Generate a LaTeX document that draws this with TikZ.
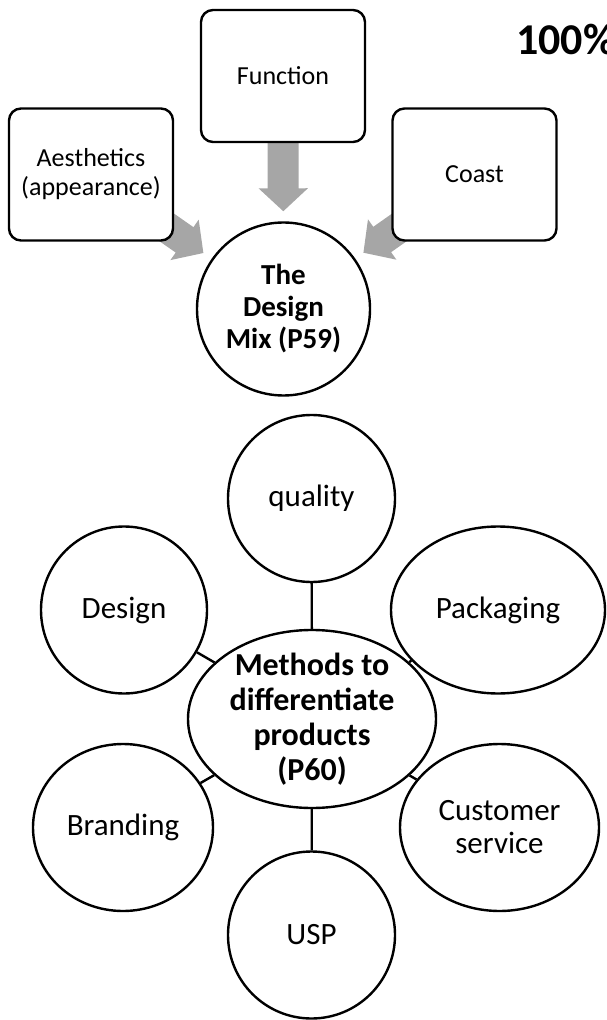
\documentclass[tikz,border=0pt]{standalone}
\usepackage{fontspec}
\setmainfont{Carlito}
\usepackage{tikz}
\usetikzlibrary{shapes.geometric,arrows.meta,backgrounds}

\definecolor{arrowgray}{HTML}{A6A6A6}

\begin{document}
\begin{tikzpicture}[x=0.5pt,y=-0.5pt,line width=1.2pt,
    mixbox/.style={draw, fill=white, rounded corners=6pt, minimum width=82pt,
      minimum height=66pt, align=center, font=\fontsize{13pt}{14.5pt}\selectfont},
    mixhub/.style={draw, fill=white, circle, minimum size=86.5pt, inner sep=0pt,
      align=center, font=\fontsize{14.5pt}{16pt}\selectfont\bfseries},
    method/.style={draw, ellipse, minimum height=83.5pt, inner sep=0pt,
      align=center, font=\fontsize{15.5pt}{16.5pt}\selectfont},
    methodhub/.style={draw, ellipse, minimum width=124pt, minimum height=89pt,
      inner xsep=0pt, inner ysep=-6pt, align=center,
      font=\fontsize{16pt}{17.5pt}\selectfont\bfseries},
    fatarrow/.style={arrowgray, line width=15.5pt,
      -{Triangle[length=11.5pt,width=24pt]}, shorten >=5pt}]
  \useasboundingbox (0,0) rectangle (606,1020);
  \clip (0,0) rectangle (606,1020);

  %% The design mix
  \node[mixbox] (fn)    at (283,76)      {Function};
  \node[mixbox] (aes)   at (91,174.5)    {Aesthetics\\(appearance)};
  \node[mixbox] (coast) at (474.5,174.5) {Coast};
  \node[mixhub] (mix)   at (283.5,309)   {The\\Design\\Mix (P59)};

  \node[anchor=base west, inner sep=0pt,
        font=\fontsize{22pt}{26pt}\selectfont\bfseries] (pct) at (515,55) {100\%};

  %% Grey arrows run from behind the boxes into the circle
  \begin{scope}[on background layer]
    \foreach \src in {aes,fn,coast}
      \draw[fatarrow] (\src.center) -- (mix);
  \end{scope}

  %% Methods to differentiate products
  \node[methodhub] (hub) at (312,719) {Methods to\\differentiate\\products\\(P60)};

  \foreach \name/\pos/\w/\txt in {
      quality/{311.5,498.5}/83.5/quality,
      design/{124,610}/83/Design,
      packaging/{498,610}/107/Packaging,
      branding/{123,827.5}/90/Branding,
      customer/{499.5,827.5}/99.5/{Customer\\service},
      usp/{311.5,935}/83.5/USP}
  {
    \node[method, minimum width=\w pt] (\name) at (\pos) {\txt};
    \draw (hub) -- (\name);
  }
\end{tikzpicture}
\end{document}
